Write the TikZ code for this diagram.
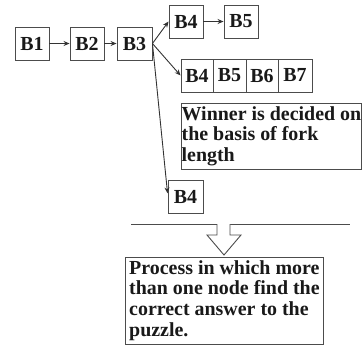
\documentclass[tikz,border=0pt]{standalone}
\usepackage{fontspec}
\setmainfont{Liberation Serif}
\usetikzlibrary{arrows.meta}
\newcommand{\notetop}{\rule{0pt}{16bp}}
\newcommand{\notebot}{\rule[-7bp]{0pt}{7bp}}
\tikzset{
  blk/.style={draw=black!70, line width=0.9bp, minimum height=33bp, inner sep=0pt,
    text=black!90, font=\bfseries\fontsize{20}{21}\selectfont},
  note/.style={blk, align=left, inner xsep=0pt, inner ysep=0.5bp, anchor=north west},
  arr/.style={-{Stealth[length=6bp,width=5bp]}, line width=0.9bp, draw=black!80},
}
\begin{document}
\begin{tikzpicture}[x=1bp,y=-1bp]
\useasboundingbox (0,0) rectangle (363,349);
% main chain
\node[blk, minimum width=34bp] (b1) at (32,43.5) {B1};
\node[blk, minimum width=34bp] (b2) at (87,43.5) {B2};
\node[blk, minimum width=35bp] (b3) at (134.5,43.5) {B3};
\draw[arr] (b1) -- (b2);
\draw[arr] (b2) -- (b3);
% forks
\node[blk, minimum width=34bp] (b4a) at (186,21.5) {B4};
\node[blk, minimum width=34bp] (b5a) at (241,21.5) {B5};
\draw[arr] (b4a) -- (b5a);
\node[blk, minimum width=32bp] (b4b) at (197,75.5) {B4};
\node[blk, minimum width=33bp] (b5b) at (229.5,75.5) {B5};
\node[blk, minimum width=32bp] (b6b) at (262,75.5) {B6};
\node[blk, minimum width=34bp] (b7b) at (295,75.5) {B7};
\node[note, minimum width=180bp, minimum height=66bp] (win) at (181,103)
  {\notetop Winner is decided on\\the basis of fork\\length\notebot};
\node[blk, minimum width=35bp] (b4c) at (185.5,196.5) {B4};
\draw[arr] (b3.east) -- (b4a.west);
\draw[arr] (b3.east) -- (b4b.west);
\draw[arr] (b3.east) -- (b4c.170);
% separator and hollow arrow
\coordinate (sl) at (131,224);
\coordinate (sr) at (350,224);
\draw[line width=0.9bp, draw=black!70] (sl) -- (sr);
\draw[line width=0.9bp, draw=black!70, fill=white] (217,224) -- (217,235) -- (207,235)
  -- (224,255) -- (241,235) -- (230,235) -- (230,224);
\node[note, minimum width=198bp, minimum height=87bp] (proc) at (125,257)
  {\notetop Process in which more\\than one node find the\\correct answer to the\\puzzle.\notebot};
\end{tikzpicture}
\end{document}
